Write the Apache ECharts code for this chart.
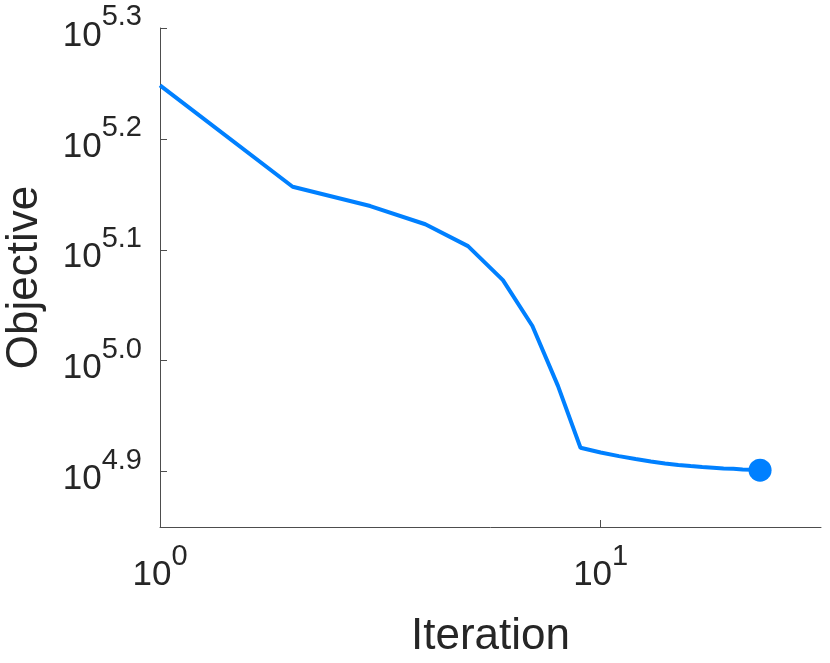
<!DOCTYPE html>
<html>
<head>
<meta charset="utf-8">
<script src="https://cdn.jsdelivr.net/npm/echarts@6/dist/echarts.min.js"></script>
<style>
  html, body { margin: 0; padding: 0; background: #fff; }
  #chart { width: 830px; height: 663px; }
</style>
</head>
<body>
<div id="chart"></div>
<script>
// iteration number and objective value
var iterations = [1, 2, 3, 4, 5, 6, 7, 8, 9, 10, 11, 12, 13, 14, 15, 16, 17, 18, 19, 20, 21, 22, 23]
var objective = [177140, 143500, 137860, 132740, 126850, 118210, 107470, 94900, 83450,
  82630, 82020, 81530, 81100, 80790, 80530, 80340, 80190, 80080, 79950, 79880, 79790, 79720, 79650]

// tick positions as powers of ten
var xTickExp = [0, 1]
var yTickExp = [4.9, 5.0, 5.1, 5.2, 5.3]

var lineColor = '#0080ff'
var textColor = '#262626'
var axisColor = '#4d4d4d'
var font = 'Liberation Sans'

var lineData = iterations.map(function (it, i) {
  return [Math.log10(it), Math.log10(objective[i])]
})
var last = lineData[lineData.length - 1]

var chart = echarts.init(document.getElementById('chart'))

// "10" with a raised exponent
var labelRich = {
  b: { fontSize: 35, fontFamily: font, color: textColor, padding: [16, 0, 0, 0] },
  s: { fontSize: 29, fontFamily: font, color: textColor, padding: [0, 0, 22, 0] }
}

var option = {
  animation: false,
  backgroundColor: '#fff',
  grid: {
    left: 160,
    right: 9,
    top: 28,
    bottom: 136,
    containLabel: false,
    outerBoundsMode: 'none'
  },
  xAxis: {
    type: 'value',
    min: 0,
    max: 1.5,
    name: 'Iteration',
    nameLocation: 'middle',
    nameGap: 88,
    nameTextStyle: { fontSize: 44, fontFamily: font, color: textColor },
    axisLine: { show: true, lineStyle: { color: axisColor, width: 1 } },
    axisTick: { show: true, inside: true, length: 7, customValues: xTickExp, lineStyle: { color: axisColor } },
    axisLabel: {
      customValues: xTickExp,
      margin: 15,
      formatter: function (v) {
        return '{b|10}{s|' + Math.round(v) + '}'
      },
      rich: labelRich
    },
    splitLine: { show: false }
  },
  yAxis: {
    type: 'value',
    min: 4.85,
    max: 5.3,
    name: 'Objective',
    nameLocation: 'middle',
    nameGap: 113,
    nameTextStyle: { fontSize: 44, fontFamily: font, color: textColor },
    axisLine: { show: true, lineStyle: { color: axisColor, width: 1 } },
    axisTick: { show: true, inside: true, length: 7, customValues: yTickExp, lineStyle: { color: axisColor } },
    axisLabel: {
      customValues: yTickExp,
      margin: 18,
      formatter: function (v) {
        return '{b|10}{s|' + v.toFixed(1) + '}'
      },
      rich: labelRich
    },
    splitLine: { show: false }
  },
  series: [
    {
      type: 'line',
      data: lineData,
      symbol: 'none',
      lineStyle: { color: lineColor, width: 4 },
      z: 2
    },
    {
      type: 'scatter',
      data: [last],
      symbol: 'circle',
      symbolSize: 23,
      itemStyle: { color: lineColor, opacity: 1 },
      z: 3
    }
  ]
}

chart.setOption(option)
</script>
</body>
</html>
